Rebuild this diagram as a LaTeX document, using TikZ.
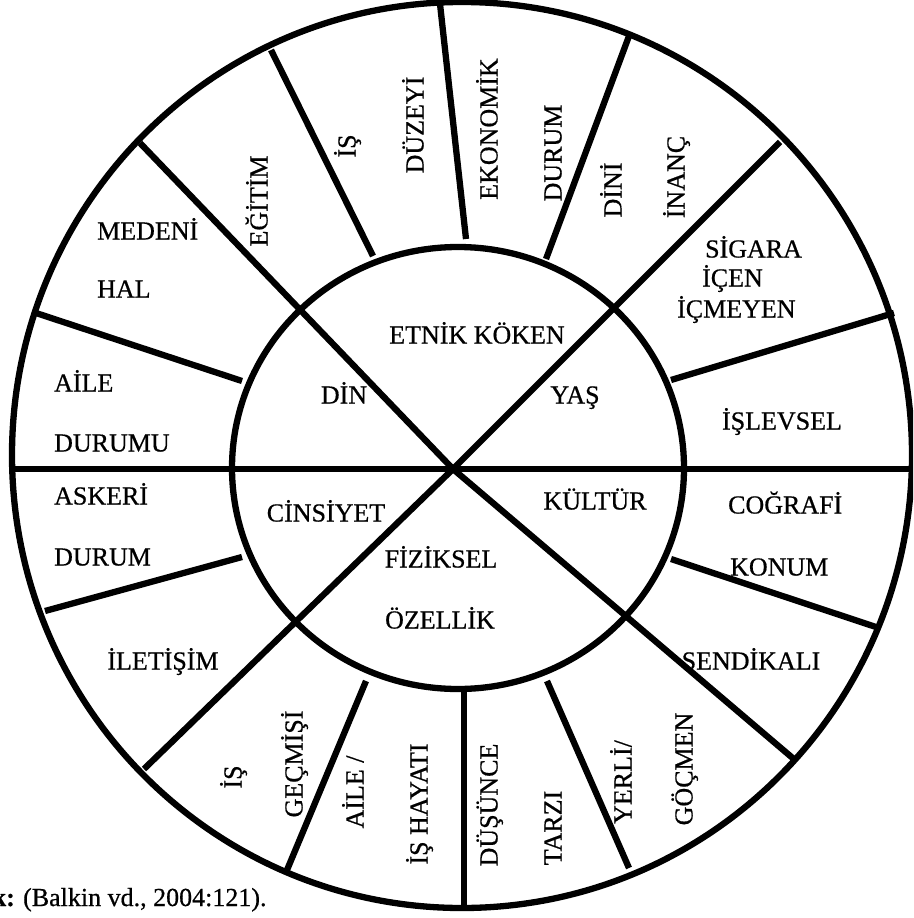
\documentclass[tikz,border=0pt]{standalone}
\usepackage{fontspec}
\setmainfont{Liberation Serif}
\newfontfamily\tnr[FakeBold=0.6]{Liberation Serif}
\begin{document}
\begin{tikzpicture}[x=1pt,y=-1pt,line width=6.3pt,
  lbl/.style={font=\tnr\fontsize{26}{30}\selectfont,inner sep=0pt,text height=17pt,text depth=0pt},
  vlbl/.style={lbl,rotate=90}]
\useasboundingbox (0,0) rectangle (913,918);
\clip (0,0) rectangle (913,918);
% circles
\draw (462,455) ellipse [x radius=450pt, y radius=453pt];
\draw (458,468) ellipse [x radius=226pt, y radius=221pt];
% centre and diagonals
\coordinate (C) at (453,469);
\coordinate (dUL) at (140,143);
\coordinate (dUR) at (780,142);
\coordinate (dLR) at (795,760);
\coordinate (dLL) at (144,769);
\draw (dUL) -- (C) -- (dLR);
\draw (dUR) -- (C) -- (dLL);
\coordinate (hL) at (12,469);
\coordinate (hR) at (913,469);
\draw (hL) -- (hR);
% radial dividers of the outer ring
\coordinate (a1) at (466,239); \coordinate (b1) at (440,4);
\coordinate (a2) at (546,259); \coordinate (b2) at (629,36);
\coordinate (a4) at (671,380); \coordinate (b4) at (894,313);
\coordinate (a6) at (671,559); \coordinate (b6) at (876,627);
\coordinate (a8) at (547,681); \coordinate (b8) at (629,868);
\coordinate (a9) at (464,686); \coordinate (b9) at (464,908);
\coordinate (a10) at (366,681); \coordinate (b10) at (287,870);
\coordinate (a12) at (242,557); \coordinate (b12) at (45,611);
\coordinate (a14) at (242,381); \coordinate (b14) at (36,313);
\coordinate (a16) at (373,256); \coordinate (b16) at (271,50);
\foreach \i in {1,2,4,6,8,9,10,12,14,16} \draw (a\i) -- (b\i);
% inner labels
\node[lbl] (etnik) at (477,335) {ETNİK KÖKEN};
\node[lbl] (din) at (344,395) {DİN};
\node[lbl] (yas) at (575,395) {YAŞ};
\node[lbl] (cins) at (326,513) {CİNSİYET};
\node[lbl] (kultur) at (595,501) {KÜLTÜR};
\node[lbl] (fiz1) at (441,559) {FİZİKSEL};
\node[lbl] (fiz2) at (440,620) {ÖZELLİK};
% outer horizontal labels
\node[lbl,anchor=west] (med1) at (94,231) {MEDENİ};
\node[lbl,anchor=west] (med2) at (94,289) {HAL};
\node[lbl,anchor=west] (aile1) at (51,383) {AİLE};
\node[lbl,anchor=west] (aile2) at (51,443) {DURUMU};
\node[lbl,anchor=west] (ask1) at (51,496) {ASKERİ};
\node[lbl,anchor=west] (ask2) at (51,557) {DURUM};
\node[lbl] (ilet) at (163,661) {İLETİŞİM};
\node[lbl,anchor=west] (sig1) at (702,249) {SİGARA};
\node[lbl,anchor=west] (sig2) at (699,278) {İÇEN};
\node[lbl,anchor=west] (sig3) at (674,309) {İÇMEYEN};
\node[lbl] (islev) at (782,421) {İŞLEVSEL};
\node[lbl,anchor=west] (cog1) at (725,505) {COĞRAFİ};
\node[lbl,anchor=west] (cog2) at (727,567) {KONUM};
\node[lbl] (send) at (751,661) {SENDİKALI};
% outer vertical labels
\node[vlbl] (egit) at (259,201) {EĞİTİM};
\node[vlbl] (isd1) at (347,146) {İŞ};
\node[vlbl] (isd2) at (415,125) {DÜZEYİ};
\node[vlbl] (eko1) at (489,129) {EKONOMİK};
\node[vlbl] (eko2) at (553,153) {DURUM};
\node[vlbl] (dini1) at (613,190) {DİNİ};
\node[vlbl] (dini2) at (676,177) {İNANÇ};
\node[vlbl] (isg1) at (233,777) {İŞ};
\node[vlbl] (isg2) at (294,764) {GEÇMİŞİ};
\node[vlbl] (aih1) at (355,792) {AİLE /};
\node[vlbl] (aih2) at (419,804) {İŞ HAYATI};
\node[vlbl] (dus1) at (489,805) {DÜŞÜNCE};
\node[vlbl] (dus2) at (553,828) {TARZI};
\node[vlbl] (yer1) at (623,782) {YERLİ/};
\node[vlbl] (yer2) at (684,769) {GÖÇMEN};
% source line
\node[lbl,anchor=base east,text height=,text depth=] (srck) at (18,906) {\textbf{k:}};
\node[lbl,anchor=base west,text height=,text depth=] (src) at (20,906) {(Balkin vd., 2004:121).};
\end{tikzpicture}
\end{document}
